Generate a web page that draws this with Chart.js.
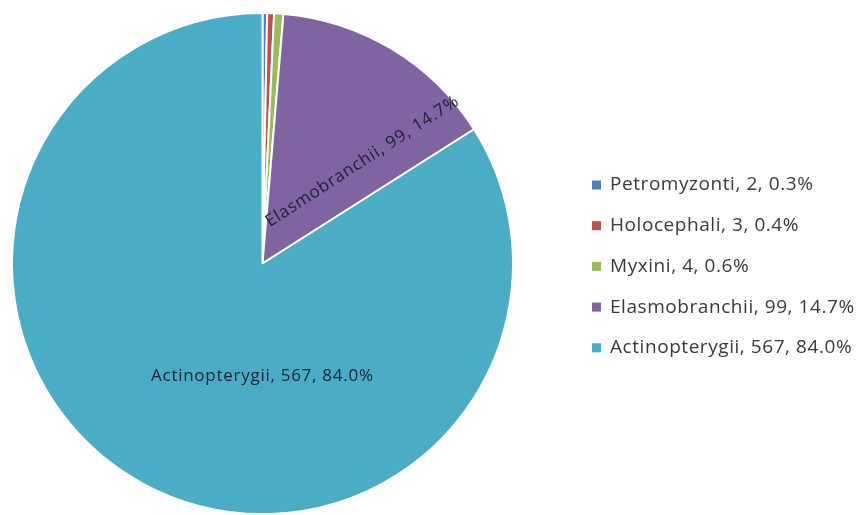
<!DOCTYPE html>
<html>
<head>
<meta charset="utf-8">
<script src="https://cdn.jsdelivr.net/npm/chart.js@4/dist/chart.umd.min.js"></script>
<style>
  html, body { margin: 0; padding: 0; background: #ffffff; }
  #wrap { width: 858px; height: 515px; position: relative; }
</style>
</head>
<body>
<div id="wrap"><canvas id="pie" width="858" height="515"></canvas></div>
<script>
// Fish classes and species counts
const categories = ['Petromyzonti', 'Holocephali', 'Myxini', 'Elasmobranchii', 'Actinopterygii'];
const counts = [2, 3, 4, 99, 567];
const percents = ['0.3%', '0.4%', '0.6%', '14.7%', '84.0%'];
const sliceColors = ['#4F81BD', '#C0504D', '#9BBB59', '#8064A2', '#4BACC6'];

const labelText = i => categories[i] + ', ' + counts[i] + ', ' + percents[i];

// Letter spacing that makes a text span the given width
function spacingFor(ctx, text, width) {
  const w0 = ctx.measureText(text).width;
  return (width - w0) / Math.max(1, text.length - 1);
}

// Slice labels drawn inside the two large slices
const sliceLabels = {
  id: 'sliceLabels',
  afterDatasetsDraw(chart, args, opts) {
    const ctx = chart.ctx;
    const meta = chart.getDatasetMeta(0);
    ctx.save();
    ctx.font = opts.font;
    ctx.fillStyle = opts.color;
    ctx.textAlign = 'center';
    ctx.textBaseline = 'middle';
    opts.items.forEach(item => {
      const arc = meta.data[item.index];
      const p = arc.getProps(['x', 'y', 'startAngle', 'endAngle', 'outerRadius'], true);
      const a = p.startAngle + (p.endAngle - p.startAngle) * item.along;
      const r = p.outerRadius * item.radial;
      const text = labelText(item.index);
      ctx.save();
      ctx.translate(p.x + Math.cos(a) * r, p.y + Math.sin(a) * r);
      ctx.rotate(item.rotate * Math.PI / 180);
      ctx.letterSpacing = spacingFor(ctx, text, item.width).toFixed(2) + 'px';
      ctx.fillText(text, 0, 0);
      ctx.restore();
    });
    ctx.restore();
  }
};

// Legend list on the right
const sideLegend = {
  id: 'sideLegend',
  afterDraw(chart, args, opts) {
    const ctx = chart.ctx;
    ctx.save();
    ctx.font = opts.font;
    ctx.textBaseline = 'middle';
    ctx.textAlign = 'left';
    const texts = categories.map((c, i) => labelText(i));
    const longest = texts.reduce((a, b) => (ctx.measureText(b).width > ctx.measureText(a).width ? b : a));
    const sp = spacingFor(ctx, longest, opts.width).toFixed(2) + 'px';
    texts.forEach((t, i) => {
      const y = opts.top + i * opts.step;
      ctx.fillStyle = sliceColors[i];
      ctx.fillRect(opts.left, y - opts.box / 2, opts.box, opts.box);
      ctx.fillStyle = opts.color;
      ctx.letterSpacing = sp;
      ctx.fillText(t, opts.left + opts.box + opts.gap, y);
      ctx.letterSpacing = '0px';
    });
    ctx.restore();
  }
};

new Chart(document.getElementById('pie'), {
  type: 'pie',
  data: {
    labels: categories,
    datasets: [{
      data: counts,
      backgroundColor: sliceColors,
      borderColor: '#ffffff',
      borderWidth: 2
    }]
  },
  options: {
    responsive: false,
    animation: false,
    layout: { padding: { left: 11, top: 12, bottom: 0, right: 344 } },
    plugins: {
      legend: { display: false },
      tooltip: { enabled: false },
      sliceLabels: {
        font: '17px "Open Sans", sans-serif',
        color: '#1d2030',
        items: [
          { index: 3, along: 0.75, radial: 0.57, rotate: -33, width: 226 },
          { index: 4, along: 0.405, radial: 0.45, rotate: 0, width: 222 }
        ]
      },
      sideLegend: {
        font: '19px "Open Sans", sans-serif',
        width: 244,
        color: '#3a3a3a',
        left: 592,
        top: 185,
        step: 40.7,
        box: 9,
        gap: 9
      }
    }
  },
  plugins: [sliceLabels, sideLegend]
});
</script>
</body>
</html>
